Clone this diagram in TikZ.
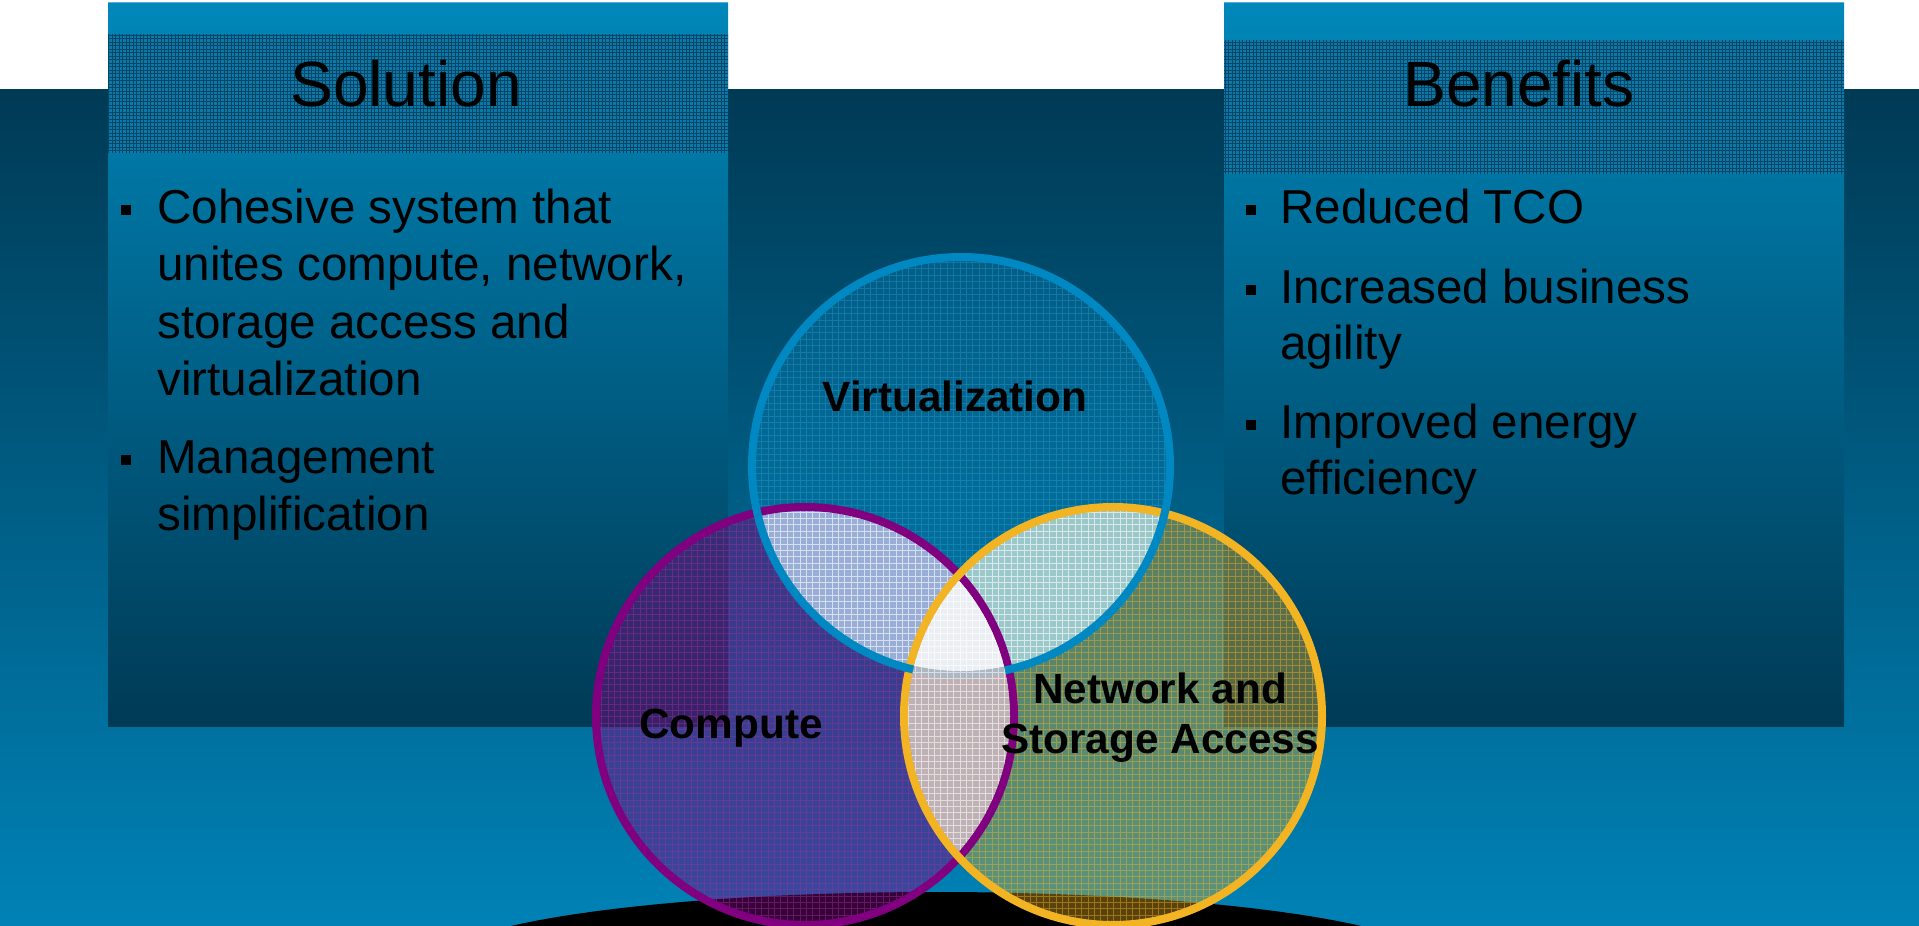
\documentclass[tikz,border=0pt]{standalone}
\usepackage{fontspec}
\setmainfont{Liberation Sans}
\definecolor{bgdark}{HTML}{003A55}
\definecolor{bgblue}{HTML}{0082B6}
\definecolor{boxtop}{HTML}{0087BA}
\definecolor{boxedge}{HTML}{5AB0DC}
\definecolor{hdrfill}{HTML}{0A78A8}
\definecolor{hdrline}{HTML}{002A40}
\definecolor{virtc}{HTML}{0088C2}
\definecolor{compc}{HTML}{800080}
\definecolor{netc}{HTML}{F2B422}
\definecolor{lensvc}{HTML}{A2B6DC}
\definecolor{lensvn}{HTML}{A4CED0}
\definecolor{lenscn}{HTML}{CABEC4}
\definecolor{lensall}{HTML}{EEF2F6}
\tikzset{
  bodytext/.style={anchor=base west, inner sep=0pt, text=black, font=\fontsize{47.6}{57}\selectfont},
  titletext/.style={anchor=base, inner sep=0pt, text=black, font=\fontsize{64}{70}\selectfont},
  venntext/.style={anchor=base, inner sep=0pt, text=black, font=\fontsize{42.3}{48}\selectfont\bfseries},
  bulletsq/.style={rectangle, fill=black, inner sep=0pt, minimum size=9.5pt},
  hatchgrid/.style={draw=hdrline, line width=0.8pt, opacity=0.65},
  finegrid/.style={line width=0.8pt},
  ring/.style={line width=8pt},
}
\begin{document}
\begin{tikzpicture}[x=1pt,y=-1pt]
\useasboundingbox (0,0) rectangle (1919,926);
\begin{scope}
\clip (0,0) rectangle (1919,926);
\fill[white] (0,0) rectangle (1919,926);
\shade[top color=bgdark, bottom color=bgblue] (0,89) rectangle (1919,926);
% boxes
\foreach \xa/\xb/\ha/\hb in {108/728/34/153, 1224/1844/40/174}{
  \shade[top color=boxtop, bottom color=bgdark] (\xa,2) rectangle (\xb,726);
  \draw[boxedge, line width=1pt] (\xa,2.5) -- (\xb,2.5);
  \fill[hdrfill] (\xa,\ha) rectangle (\xb,\hb);
  \begin{scope}
    \clip (\xa,\ha) rectangle (\xb,\hb);
    \draw[hatchgrid, step=3.5pt] (\xa,\ha) grid (\xb,\hb);
  \end{scope}
}
% titles
\node[titletext] (soltitle) at (406,106) {Solution};
\node[titletext] (bentitle) at (1519,106) {Benefits};
% solution bullets
\node[bulletsq] (sb1) at (126,210) {};
\node[bulletsq] (sb2) at (126,460) {};
\node[bodytext] (s1a) at (157,223) {Cohesive system that};
\node[bodytext] (s1b) at (157,280) {unites compute, network,};
\node[bodytext] (s1c) at (157,338) {storage access and};
\node[bodytext] (s1d) at (157,395) {virtualization};
\node[bodytext] (s2a) at (157,473) {Management};
\node[bodytext] (s2b) at (157,530) {simplification};
% benefits bullets
\node[bulletsq] (bb1) at (1251,210) {};
\node[bulletsq] (bb2) at (1251,290) {};
\node[bulletsq] (bb3) at (1251,425) {};
\node[bodytext] (b1a) at (1280,223) {Reduced TCO};
\node[bodytext] (b2a) at (1280,303) {Increased business};
\node[bodytext] (b2b) at (1280,359) {agility};
\node[bodytext] (b3a) at (1280,438) {Improved energy};
\node[bodytext] (b3b) at (1280,494) {efficiency};
% shadow
\fill[black] (936,965) ellipse [x radius=503pt, y radius=73pt];
% circles
\coordinate (cv) at (961,466);
\coordinate (cc) at (805,716);
\coordinate (cn) at (1113,716);
\fill[compc, opacity=0.44] (cc) circle[radius=209pt];
\fill[netc, opacity=0.37] (cn) circle[radius=209pt];
\fill[virtc, opacity=0.35] (cv) circle[radius=209pt];
\begin{scope}
  \clip (cc) circle[radius=209pt];
  \draw[finegrid, compc!80!white, opacity=0.45, step=6.4pt] (590,250) grid (1330,930);
\end{scope}
\begin{scope}
  \clip (cn) circle[radius=209pt];
  \draw[finegrid, netc, opacity=0.45, step=6.4pt] (590,250) grid (1330,930);
\end{scope}
\begin{scope}
  \clip (cv) circle[radius=209pt];
  \draw[finegrid, virtc!70!white, opacity=0.3, step=6.4pt] (590,250) grid (1330,930);
\end{scope}
% lenses with virtualization
\begin{scope}
  \clip (cv) circle[radius=209pt];
  \clip (cc) circle[radius=209pt];
  \fill[lensvc, opacity=0.92] (590,250) rectangle (1330,930);
  \draw[finegrid, white, opacity=0.6, step=6.4pt] (590,250) grid (1330,930);
\end{scope}
\begin{scope}
  \clip (cv) circle[radius=209pt];
  \clip (cn) circle[radius=209pt];
  \fill[lensvn, opacity=0.92] (590,250) rectangle (1330,930);
  \draw[finegrid, white, opacity=0.6, step=6.4pt] (590,250) grid (1330,930);
\end{scope}
% rings
\draw[ring, compc] (cc) circle[radius=209pt];
\draw[ring, netc] (cn) circle[radius=209pt];
\draw[ring, virtc] (cv) circle[radius=209pt];
% compute / network lens
\begin{scope}
  \clip (cc) circle[radius=205pt];
  \clip (cn) circle[radius=205pt];
  \fill[lenscn, opacity=0.86] (590,250) rectangle (1330,930);
  \draw[finegrid, white, opacity=0.55, step=6.4pt] (590,250) grid (1330,930);
\end{scope}
\begin{scope}
  \clip (cv) circle[radius=205pt];
  \clip (cc) circle[radius=205pt];
  \clip (cn) circle[radius=205pt];
  \fill[lensall, opacity=0.95] (590,250) rectangle (1330,930);
  \draw[finegrid, white, opacity=0.6, step=6.4pt] (590,250) grid (1330,930);
\end{scope}
% labels
\node[venntext] (lv) at (955,411) {Virtualization};
\node[venntext] (lc) at (731,738) {Compute};
\node[venntext] (ln1) at (1160,703) {Network and};
\node[venntext] (ln2) at (1160,753) {Storage Access};
\end{scope}
\end{tikzpicture}
\end{document}
